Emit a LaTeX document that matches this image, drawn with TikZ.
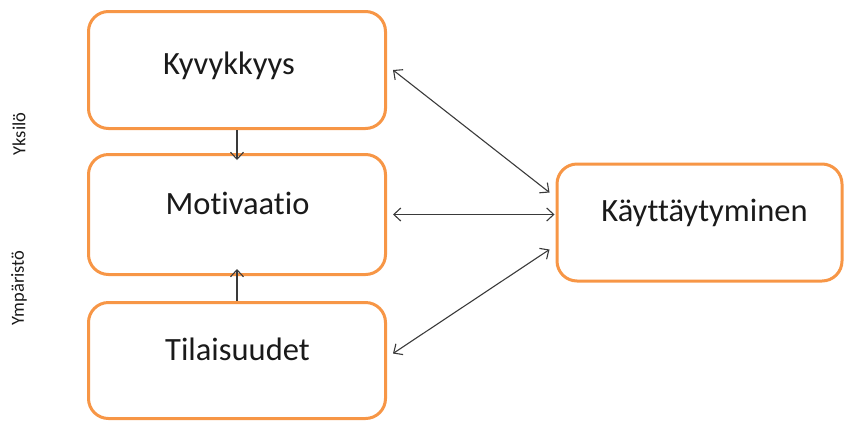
\documentclass[tikz,border=0pt]{standalone}
\usepackage{fontspec}
\setmainfont{Carlito}[Ligatures={NoCommon,NoRequired,NoContextual}]
\usetikzlibrary{arrows.meta,calc}
\definecolor{boxorange}{HTML}{F79646}
\definecolor{linkgray}{HTML}{3A3A3A}
\definecolor{inktext}{HTML}{1A1A1A}
\tikzset{
  phase/.style={draw=boxorange, line width=3pt, rounded corners=20pt,
    fill=white, inner sep=0pt},
  phasetext/.style={anchor=base, text=inktext, font=\fontsize{32.5}{36}\selectfont, inner sep=0pt},
  sidetext/.style={rotate=90, text=inktext, font=\fontsize{18.5}{20}\selectfont, inner sep=0pt},
  link/.style={draw=linkgray, line width=1.1pt,
    arrows={-Straight Barb[length=7pt,width=13pt,line width=1.1pt]}},
  duallink/.style={draw=linkgray, line width=1.1pt,
    arrows={Straight Barb[length=7pt,width=13pt,line width=1.1pt]-Straight Barb[length=7pt,width=13pt,line width=1.1pt]}}
}
\begin{document}
\begin{tikzpicture}[x=1pt,y=-1pt]
\useasboundingbox (0,0) rectangle (845,421);

% the four factor boxes
\node[phase, minimum width=297pt, minimum height=117pt] (kyky) at (237,70) {};
\node[phase, minimum width=297pt, minimum height=120pt] (moti) at (237,214.5) {};
\node[phase, minimum width=297pt, minimum height=116pt] (tila) at (237,360.5) {};
\node[phase, minimum width=285pt, minimum height=117pt] (kayt) at (699.5,222.5) {};

% box titles
\node[phasetext] (kykyt) at (229,74) {Kyvykkyys};
\node[phasetext] (motit) at (237.5,214) {Motivaatio};
\node[phasetext] (tilat) at (237.5,360) {Tilaisuudet};
\node[phasetext] (kaytt) at (704.5,221) {Käyttäytyminen};

% side captions
\node[sidetext] (yksilo) at (19,134) {Yksilö};
\node[sidetext] (ympar) at (19,288) {Ympäristö};

% vertical influences on motivation
\draw[link] (kyky.south) -- ($(moti.north)+(0,7)$);
\draw[link] (tila.north) -- ($(moti.south)+(0,-7)$);

% two-way links to behaviour
\draw[duallink] ($(kyky.east)+(6,0)$) -- ($(kayt.west)+(-6,-30)$);
\draw[duallink] ($(moti.east)+(6,0)$) -- ($(kayt.west)+(-1,-8)$);
\draw[duallink] ($(tila.east)+(6,-7)$) -- ($(kayt.west)+(-6,27)$);
\end{tikzpicture}
\end{document}
